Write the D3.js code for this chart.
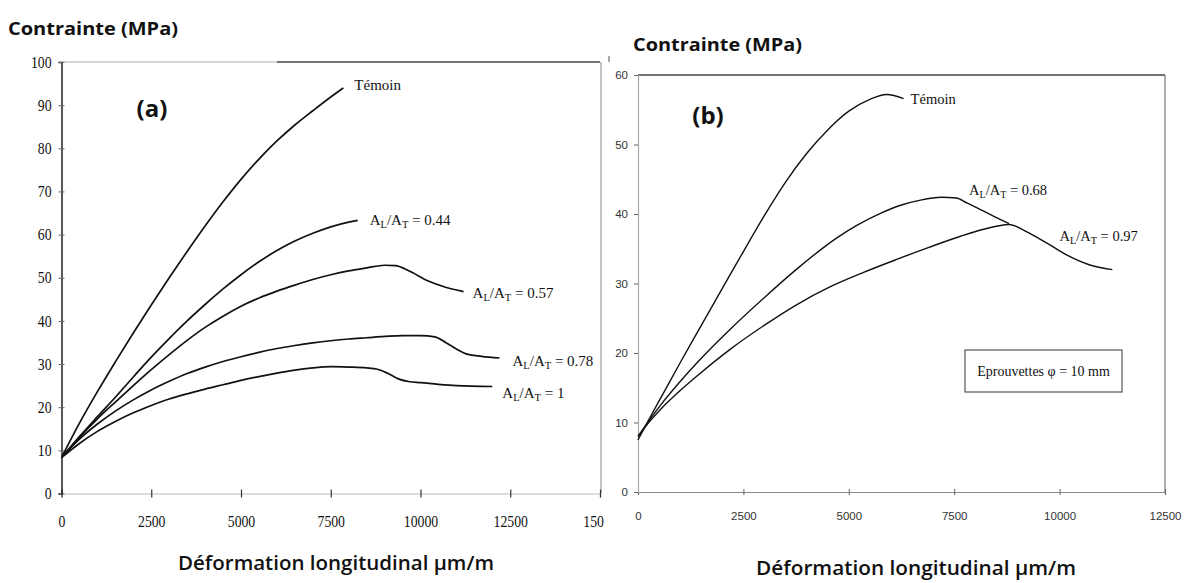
<!DOCTYPE html>
<html>
<head>
<meta charset="utf-8">
<script src="https://cdn.jsdelivr.net/npm/d3@7"></script>
<style>
  html, body { margin: 0; padding: 0; background: #fff; }
  svg { display: block; }
</style>
</head>
<body>
<svg id="chart" width="1186" height="583"></svg>
<script>
// ---------------- DATA ----------------
// Panel (a) : strain (µm/m), stress (MPa)
const xTicksA = [0, 2500, 5000, 7500, 10000, 12500, 15000];
const xTickLabelsA = ["0", "2500", "5000", "7500", "10000", "12500", "15000"];
const yTicksA = [0, 10, 20, 30, 40, 50, 60, 70, 80, 90, 100];

const temoinA = [[0,8.3],[500,16.3],[1000,23.6],[1500,30.5],[2000,37.2],[2500,43.7],[3000,50],[3500,56.1],[4000,62],[4500,67.6],[5000,72.8],[5500,77.5],[6000,81.7],[6500,85.4],[7000,88.7],[7500,91.9],[7850,94]];
const al044 = [[0,8.3],[500,13.2],[1000,17.8],[1500,22.3],[2000,27],[2500,31.6],[3000,35.9],[3500,40],[4000,43.8],[4500,47.4],[5000,50.7],[5500,53.7],[6000,56.3],[6500,58.5],[7000,60.3],[7500,61.8],[8000,62.9],[8250,63.3]];
const al057 = [[0,8.3],[500,13],[1000,17.3],[1500,21.2],[2000,25],[2500,28.7],[3000,32.2],[3500,35.5],[4000,38.5],[4500,41.1],[5000,43.4],[5500,45.3],[6000,46.9],[6500,48.3],[7000,49.6],[7500,50.7],[8000,51.6],[8500,52.3],[9000,52.9],[9300,52.8],[9700,51.5],[10200,49.3],[10700,47.8],[11200,46.8]];
const al078 = [[0,8.3],[500,12.6],[1000,16.1],[1500,19.1],[2000,21.7],[2500,24],[3000,26],[3500,27.8],[4000,29.3],[4500,30.6],[5000,31.7],[5500,32.7],[6000,33.6],[6500,34.3],[7000,34.9],[7500,35.4],[8000,35.8],[8500,36.1],[9000,36.4],[9500,36.6],[10000,36.6],[10400,36.3],[10700,35],[11000,33.5],[11300,32.3],[11700,31.8],[12200,31.4]];
const al100 = [[0,8.3],[500,11.6],[1000,14.4],[1500,16.7],[2000,18.7],[2500,20.4],[3000,21.9],[3500,23.1],[4000,24.2],[4500,25.2],[5000,26.2],[5500,27.1],[6000,27.9],[6500,28.6],[7000,29.1],[7500,29.4],[8000,29.3],[8500,29.1],[8800,28.8],[9100,27.8],[9400,26.5],[9700,25.9],[10000,25.7],[10500,25.3],[11000,25],[12000,24.8]];

// Panel (b)
const xTicksB = [0, 2500, 5000, 7500, 10000, 12500];
const xTickLabelsB = ["0", "2500", "5000", "7500", "10000", "12500"];
const yTicksB = [0, 10, 20, 30, 40, 50, 60];

const temoinB = [[0,7.5],[300,10.9],[600,14.2],[1000,18.6],[1400,22.9],[2000,29.3],[2500,34.6],[3000,39.8],[3500,44.6],[4000,48.7],[4500,52.1],[5000,54.8],[5500,56.5],[5900,57.2],[6300,56.6]];
const al068 = [[0,8],[300,10.6],[600,13],[1000,15.9],[1400,18.6],[2200,23.5],[3000,28],[3750,32],[4700,36.5],[5200,38.4],[5750,40.1],[6250,41.3],[6700,42],[7200,42.4],[7550,42.3],[7800,41.6],[8200,40.4],[8600,39.2],[8800,38.6]];
const al097 = [[0,8],[300,10.3],[600,12.3],[1000,14.6],[1400,16.7],[2200,20.6],[3000,24],[3750,26.9],[4550,29.5],[5350,31.6],[6150,33.5],[6900,35.2],[7650,36.8],[8200,37.8],[8800,38.5],[9200,37.5],[9700,35.8],[10200,34],[10700,32.7],[11250,32]];

const seriesNamesA = ["Témoin", "0.44", "0.57", "0.78", "1"];
const seriesNamesB = ["Témoin", "0.68", "0.97"];

// ---------------- DRAW ----------------
const svg = d3.select("#chart");
const serif = "'Liberation Serif', 'Times New Roman', serif";
const sans = "'Liberation Sans', Arial, sans-serif";
const bold = "'Open Sans', 'Noto Sans', sans-serif";

svg.append("defs").append("clipPath").attr("id", "clipA")
  .append("rect").attr("x", 0).attr("y", 0).attr("width", 604).attr("height", 583);

const gA = svg.append("g").attr("clip-path", "url(#clipA)");

const xA = d3.scaleLinear().domain([0, 15000]).range([61.5, 600]);
const yA = d3.scaleLinear().domain([0, 100]).range([493.5, 62]);

// frame (a)
gA.append("line").attr("x1", xA(0)).attr("x2", xA(15000)).attr("y1", yA(100)).attr("y2", yA(100))
  .attr("stroke", "#c8c8c8").attr("stroke-width", 1.3);
gA.append("line").attr("x1", xA(6000)).attr("x2", xA(15000)).attr("y1", yA(100)).attr("y2", yA(100))
  .attr("stroke", "#555").attr("stroke-width", 1.3);
gA.append("line").attr("x1", xA(15000) + 1).attr("x2", xA(15000) + 1).attr("y1", yA(100)).attr("y2", yA(0))
  .attr("stroke", "#999").attr("stroke-width", 1.2);

// x axis (a)
const axXA = gA.append("g").attr("transform", `translate(0,${yA(0)})`)
  .call(d3.axisBottom(xA).tickValues(xTicksA).tickFormat((d, i) => xTickLabelsA[i]).tickSize(4).tickPadding(18));
axXA.select(".domain").attr("stroke", "#bbb").attr("stroke-width", 1.2);
axXA.selectAll(".tick line").attr("y1", -4).attr("y2", 4).attr("stroke", "#333").attr("stroke-width", 1.2);
axXA.selectAll(".tick text").attr("font-family", serif).attr("font-size", 16).attr("fill", "#111")
  .attr("transform", "scale(0.86,1)");

// y axis (a)
const axYA = gA.append("g").attr("transform", `translate(${xA(0)},0)`)
  .call(d3.axisLeft(yA).tickValues(yTicksA).tickSize(3).tickPadding(7));
axYA.select(".domain").attr("stroke", "#111").attr("stroke-width", 1.4);
axYA.selectAll(".tick line").attr("x1", 3).attr("x2", -3).attr("stroke", "#666");
axYA.selectAll(".tick text").attr("font-family", serif).attr("font-size", 16).attr("fill", "#111")
  .attr("transform", "scale(0.86,1)").attr("x", -10 / 0.86);

// curves (a)
const lineA = d3.line().x(d => xA(d[0])).y(d => yA(d[1])).curve(d3.curveMonotoneX);
[temoinA, al044, al057, al078, al100].forEach(s => {
  gA.append("path").attr("d", lineA(s)).attr("fill", "none").attr("stroke", "#111").attr("stroke-width", 1.7);
});

function alLabel(g, x, y, val, size) {
  const t = g.append("text").attr("x", x).attr("y", y)
    .attr("font-family", serif).attr("font-size", size).attr("fill", "#111");
  t.append("tspan").text("A");
  t.append("tspan").attr("font-size", size * 0.7).attr("dy", size * 0.2).text("L");
  t.append("tspan").attr("dy", -size * 0.2).text("/A");
  t.append("tspan").attr("font-size", size * 0.7).attr("dy", size * 0.2).text("T");
  t.append("tspan").attr("dy", -size * 0.2).text(" = " + val);
  return t;
}
function endOf(s) { return s[s.length - 1]; }

gA.append("text").attr("x", xA(endOf(temoinA)[0]) + 11).attr("y", yA(endOf(temoinA)[1]) + 2)
  .attr("font-family", serif).attr("font-size", 15).attr("fill", "#111").text(seriesNamesA[0]);
alLabel(gA, xA(endOf(al044)[0]) + 12, yA(endOf(al044)[1]) + 5, seriesNamesA[1], 15);
alLabel(gA, xA(endOf(al057)[0]) + 9, yA(endOf(al057)[1]) + 6, seriesNamesA[2], 15);
alLabel(gA, xA(endOf(al078)[0]) + 13, yA(endOf(al078)[1]) + 8, seriesNamesA[3], 15);
alLabel(gA, xA(endOf(al100)[0]) + 10, yA(endOf(al100)[1]) + 12, seriesNamesA[4], 15);

// titles (a)
svg.append("text").attr("x", 8).attr("y", 35).attr("font-family", bold).attr("font-weight", 700)
  .attr("font-size", 18).attr("textLength", 170).attr("lengthAdjust", "spacingAndGlyphs")
  .attr("fill", "#111").text("Contrainte (MPa)");
svg.append("text").attr("x", 152).attr("y", 117).attr("text-anchor", "middle").attr("font-family", bold)
  .attr("font-weight", 700).attr("font-size", 24).attr("fill", "#111").text("(a)");
svg.append("text").attr("x", 178).attr("y", 570).attr("font-family", bold).attr("font-weight", 600)
  .attr("font-size", 19).attr("textLength", 316).attr("lengthAdjust", "spacingAndGlyphs")
  .attr("fill", "#111").text("Déformation longitudinal µm/m");

// ---------------- Panel (b) ----------------
const gB = svg.append("g");
const xB = d3.scaleLinear().domain([0, 12500]).range([638, 1165]);
const yB = d3.scaleLinear().domain([0, 60]).range([492, 75]);

gB.append("line").attr("x1", xB(0)).attr("x2", xB(12500)).attr("y1", yB(60)).attr("y2", yB(60))
  .attr("stroke", "#444").attr("stroke-width", 1.4);
gB.append("line").attr("x1", xB(12500)).attr("x2", xB(12500)).attr("y1", yB(60)).attr("y2", yB(0))
  .attr("stroke", "#777").attr("stroke-width", 1.2);

const axXB = gB.append("g").attr("transform", `translate(0,${yB(0)})`)
  .call(d3.axisBottom(xB).tickValues(xTicksB).tickFormat((d, i) => xTickLabelsB[i]).tickSize(3).tickPadding(17));
axXB.select(".domain").attr("stroke", "#888").attr("stroke-width", 1.2);
axXB.selectAll(".tick line").attr("y1", -3).attr("y2", 3).attr("stroke", "#666");
axXB.selectAll(".tick text").attr("font-family", sans).attr("font-size", 11.5).attr("fill", "#333");

const axYB = gB.append("g").attr("transform", `translate(${xB(0)},0)`)
  .call(d3.axisLeft(yB).tickValues(yTicksB).tickSize(4).tickPadding(6));
axYB.select(".domain").attr("stroke", "#aaa").attr("stroke-width", 1.2);
axYB.selectAll(".tick line").attr("stroke", "#666");
axYB.selectAll(".tick text").attr("font-family", sans).attr("font-size", 11.5).attr("fill", "#333");

// stray mark above (b)
gB.append("line").attr("x1", 609).attr("x2", 609).attr("y1", 56).attr("y2", 62).attr("stroke", "#555");

const lineB = d3.line().x(d => xB(d[0])).y(d => yB(d[1])).curve(d3.curveMonotoneX);
[temoinB, al068, al097].forEach(s => {
  gB.append("path").attr("d", lineB(s)).attr("fill", "none").attr("stroke", "#111").attr("stroke-width", 1.4);
});

gB.append("text").attr("x", xB(endOf(temoinB)[0]) + 7).attr("y", yB(endOf(temoinB)[1]) + 5)
  .attr("font-family", serif).attr("font-size", 14.5).attr("fill", "#111").text(seriesNamesB[0]);
alLabel(gB, xB(7850), yB(43.5) + 5, seriesNamesB[1], 14.5);
alLabel(gB, xB(10000), yB(36.8) + 5, seriesNamesB[2], 14.5);

// annotation box
gB.append("rect").attr("x", 965).attr("y", 350).attr("width", 157).attr("height", 42)
  .attr("fill", "#fff").attr("stroke", "#555").attr("stroke-width", 1.2);
gB.append("text").attr("x", 1043.5).attr("y", 376).attr("text-anchor", "middle")
  .attr("font-family", serif).attr("font-size", 14).attr("fill", "#111").text("Eprouvettes φ = 10 mm");

svg.append("text").attr("x", 633).attr("y", 51).attr("font-family", bold).attr("font-weight", 700)
  .attr("font-size", 18).attr("textLength", 169).attr("lengthAdjust", "spacingAndGlyphs")
  .attr("fill", "#111").text("Contrainte (MPa)");
svg.append("text").attr("x", 708).attr("y", 124).attr("text-anchor", "middle").attr("font-family", bold)
  .attr("font-weight", 700).attr("font-size", 24).attr("fill", "#111").text("(b)");
svg.append("text").attr("x", 756).attr("y", 575).attr("font-family", bold).attr("font-weight", 600)
  .attr("font-size", 19).attr("textLength", 320).attr("lengthAdjust", "spacingAndGlyphs")
  .attr("fill", "#111").text("Déformation longitudinal µm/m");
</script>
</body>
</html>
